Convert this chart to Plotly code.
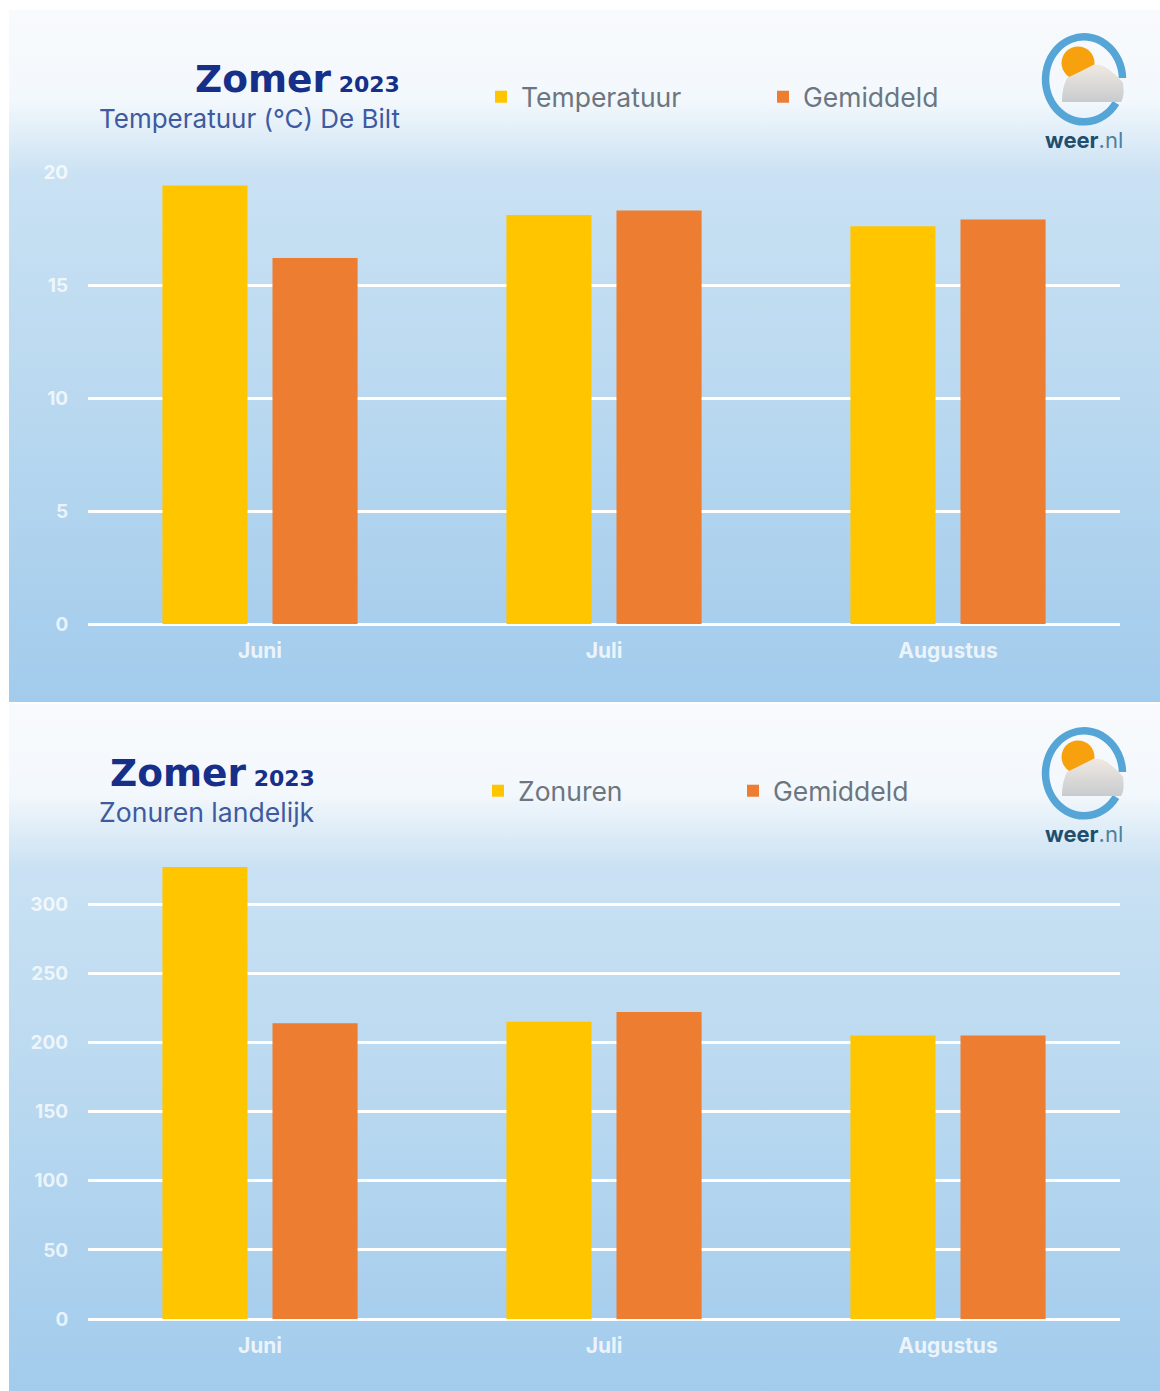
import base64
import plotly.graph_objects as go

# ---- data ----
months = ["Juni", "Juli", "Augustus"]
temperatuur = [19.4, 18.1, 17.6]
temp_gemiddeld = [16.2, 18.3, 17.9]
zonuren = [327, 215, 205]
zon_gemiddeld = [214, 222, 205]
temp_ticks = [0, 5, 10, 15, 20]
zon_ticks = [0, 50, 100, 150, 200, 250, 300]

W, H = 1160, 1391
FONT = "Inter"
TITLE_FONT = "DejaVu Sans"
YELLOW, ORANGE = "#FFC600", "#ED7D31"
NAVY, SUB, GREY = "#16308A", "#3F5A9E", "#6C7680"


def px(v):
    return 1 - v / H


def svg_uri(svg):
    return "data:image/svg+xml;base64," + base64.b64encode(svg.encode()).decode()


BG = svg_uri(
    '<svg xmlns="http://www.w3.org/2000/svg" width="1151" height="692" preserveAspectRatio="none" viewBox="0 0 1151 692">'
    '<defs><linearGradient id="g" x1="0" y1="0" x2="0" y2="1">'
    '<stop offset="0" stop-color="#F8FAFD"/><stop offset="0.13" stop-color="#F3F8FC"/>'
    '<stop offset="0.24" stop-color="#C9E1F3"/><stop offset="0.55" stop-color="#BAD9F0"/>'
    '<stop offset="1" stop-color="#A2CBEC"/></linearGradient></defs>'
    '<rect width="1151" height="692" fill="url(#g)"/></svg>'
)
LOGO = svg_uri(
    '<svg xmlns="http://www.w3.org/2000/svg" width="100" height="100" viewBox="0 0 100 100">'
    '<defs><linearGradient id="c" x1="0" y1="0" x2="0" y2="1">'
    '<stop offset="0" stop-color="#F0E9E2"/><stop offset="1" stop-color="#C8CBCE"/></linearGradient></defs>'
    '<path d="M 80 75 A 38.5 42.5 0 1 1 86.5 50" fill="none" stroke="#55A5D6" stroke-width="7.5"/>'
    '<circle cx="42" cy="35" r="16.5" fill="#F7A10F"/>'
    '<path d="M 26 74 C 26 64 28 56 31 50 C 40 46 49 41 57 37 C 62 36 67 37 71 40 '
    'C 76 44 83 49 87 55 C 88 62 88 70 85 74 Z" fill="url(#c)"/></svg>'
)


def bars(name, xs, ys, color, xaxis, yaxis, legend):
    return go.Bar(name=name, x=xs, y=ys, marker=dict(color=color, line=dict(width=0)),
                  xaxis=xaxis, yaxis=yaxis, legend=legend, hoverinfo="x+y+name")


fig = go.Figure([
    bars("Temperatuur", months, temperatuur, YELLOW, "x", "y", "legend"),
    bars("Gemiddeld", months, temp_gemiddeld, ORANGE, "x", "y", "legend"),
    bars("Zonuren", months, zonuren, YELLOW, "x2", "y2", "legend2"),
    bars("Gemiddeld", months, zon_gemiddeld, ORANGE, "x2", "y2", "legend2"),
])

ytickfont = dict(family=FONT, size=19, color="rgba(255,255,255,0.75)", weight=700)
xtickfont = dict(family=FONT, size=21, color="rgba(255,255,255,0.8)", weight=700)
xcommon = dict(type="category", showgrid=False, showline=False, zeroline=False, tickfont=xtickfont,
               ticks="outside", ticklen=8, tickcolor="rgba(0,0,0,0)", fixedrange=True)
ycommon = dict(showgrid=True, gridcolor="#FFFFFF", gridwidth=3, zeroline=True, zerolinecolor="#FFFFFF",
               zerolinewidth=3, showline=False, tickfont=ytickfont, ticks="outside", ticklen=15,
               tickcolor="rgba(0,0,0,0)", fixedrange=True)

legend_style = dict(orientation="h", yanchor="middle", xanchor="left", bgcolor="rgba(0,0,0,0)",
                    font=dict(family=FONT, size=26.5, color=GREY), entrywidthmode="pixels")

panels = [(10, 702), (704, 1391)]


def label(x, y, text, size, color, family=FONT):
    return dict(x=x / W, y=px(y), xref="paper", yref="paper", text=text, showarrow=False,
                xanchor="right", yanchor="middle", font=dict(family=family, size=size, color=color))


TITLE = "<b>Zomer</b><b><span style='font-size:22px'> 2023</span></b>"
WEER = "<b>weer</b><span style='color:#4F7F9F'>.nl</span>"
annotations = [
    label(402, 79, TITLE, 37.5, NAVY, TITLE_FONT),
    label(402, 118, "Temperatuur (°C) De Bilt", 26, SUB),
    label(1125, 140, WEER, 22, "#1F4E6E"),
    label(317, 773, TITLE, 37.5, NAVY, TITLE_FONT),
    label(317, 812, "Zonuren landelijk", 26.6, SUB),
    label(1125, 834, WEER, 22, "#1F4E6E"),
]

images = []
for top, bottom in panels:
    images.append(dict(source=BG, xref="paper", yref="paper", x=9 / W, y=px(top), sizex=1151 / W,
                       sizey=(bottom - top) / H, xanchor="left", yanchor="top", sizing="stretch",
                       layer="below"))
for top in (28, 722):
    images.append(dict(source=LOGO, xref="paper", yref="paper", x=1036 / W, y=px(top), sizex=100 / W,
                       sizey=100 / H, xanchor="left", yanchor="top", sizing="contain", layer="above"))

fig.update_layout(
    width=W, height=H, autosize=False, margin=dict(l=0, r=0, t=0, b=0, autoexpand=False),
    paper_bgcolor="#FFFFFF", plot_bgcolor="rgba(0,0,0,0)",
    barmode="group", bargap=0.36, bargroupgap=0.227, hovermode="closest",
    font=dict(family=FONT),
    xaxis=dict(domain=[88 / W, 1120 / W], anchor="y", **xcommon),
    yaxis=dict(domain=[px(624), px(172)], anchor="x", range=[0, 20], tickvals=temp_ticks, **ycommon),
    xaxis2=dict(domain=[88 / W, 1120 / W], anchor="y2", **xcommon),
    yaxis2=dict(domain=[px(1319), px(849)], anchor="x2", range=[0, 340], tickvals=zon_ticks, **ycommon),
    legend=dict(x=481 / W, y=px(97), entrywidth=237, **legend_style),
    legend2=dict(x=478 / W, y=px(791), entrywidth=210, **legend_style),
    annotations=annotations,
    images=images,
)

fig.write_html("out.html", config={"displayModeBar": False},
               post_script="document.body.style.margin='0';")
